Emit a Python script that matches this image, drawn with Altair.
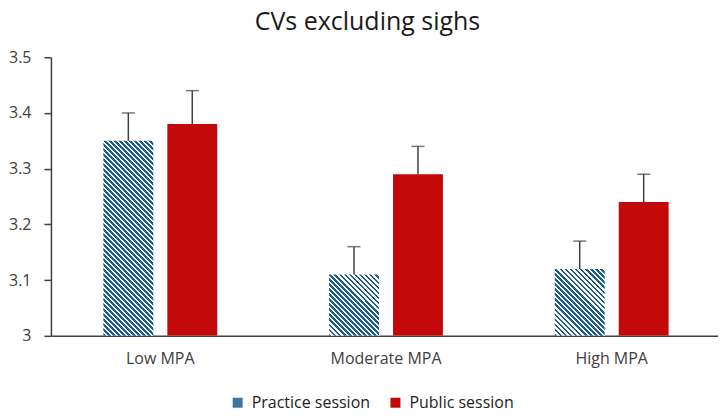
import altair as alt
import pandas as pd

# ---- data ----
groups = ["Low MPA", "Moderate MPA", "High MPA"]
sessions = ["Practice session", "Public session"]
practice_means = [3.35, 3.11, 3.12]
public_means = [3.38, 3.29, 3.24]
practice_err = [0.05, 0.05, 0.05]
public_err = [0.06, 0.05, 0.05]
y_ticks = [3.0, 3.1, 3.2, 3.3, 3.4, 3.5]

rows = []
for g, pm, pe, qm, qe in zip(groups, practice_means, practice_err, public_means, public_err):
    rows.append({"group": g, "session": sessions[0], "mean": pm, "upper": pm + pe})
    rows.append({"group": g, "session": sessions[1], "mean": qm, "upper": qm + qe})
df = pd.DataFrame(rows)

# ---- styling ----
FONT = "Open Sans"
PLOT_W = 668
PLOT_H = 279
Y0, Y1 = 3.0, 3.5
BAR_W = 50.0
STRIPE_P = 5.0
DARK_BLUE = "#1b5c8e"
RED = "#c20808"
LEGEND_BLUE = "#3d76a3"


def stripe_gradient(value):
    """Diagonal (\\) stripes for one bar, expressed as a linear gradient
    in object-bounding-box units."""
    h = (value - Y0) / (Y1 - Y0) * PLOT_H
    w = BAR_W
    k = (w + h) / (w * w + h * h)
    a, b = k * w, k * h
    n = max(1, round((w + h) / STRIPE_P))
    f = 0.52
    stops = []
    for i in range(n):
        stops += [
            {"offset": i / n, "color": DARK_BLUE},
            {"offset": (i + f) / n, "color": DARK_BLUE},
            {"offset": (i + f) / n, "color": "#ffffff"},
            {"offset": (i + 1) / n, "color": "#ffffff"},
        ]
    return {"gradient": "linear", "x1": 0, "y1": 1, "x2": a, "y2": 1 - b, "stops": stops}


conditions = [
    {
        "test": f"datum.group === '{g}' && datum.session === '{sessions[0]}'",
        "value": stripe_gradient(v),
    }
    for g, v in zip(groups, practice_means)
]

x_enc = alt.X(
    "group:N",
    sort=groups,
    scale=alt.Scale(paddingInner=0.4956, paddingOuter=0.2256, align=0.515),
    axis=alt.Axis(
        title=None,
        labelAngle=0,
        ticks=False,
        tickSize=0,
        labelPadding=15,
        labelFont=FONT,
        labelFontSize=16,
        labelColor="#404040",
        domainColor="#404040",
        domainWidth=1.5,
        grid=False,
    ),
)
x_off = alt.XOffset("session:N", sort=sessions, scale=alt.Scale(paddingInner=0.22, paddingOuter=0))
y_scale = alt.Scale(domain=[Y0, Y1], nice=False, zero=False)

bars = alt.Chart(df).mark_bar(clip=True).encode(
    x=x_enc,
    xOffset=x_off,
    y=alt.Y(
        "mean:Q",
        scale=y_scale,
        axis=alt.Axis(
            title=None,
            values=y_ticks,
            labelExpr="datum.value == 3 ? '3' : format(datum.value, '.1f')",
            grid=False,
            tickSize=7,
            tickColor="#404040",
            tickWidth=1.5,
            labelPadding=13,
            labelFont=FONT,
            labelFontSize=16,
            labelColor="#404040",
            domainColor="#404040",
            domainWidth=1.5,
        ),
    ),
    y2=alt.datum(Y0),
    fill=alt.Fill(
        "session:N",
        sort=sessions,
        scale=alt.Scale(domain=sessions, range=[LEGEND_BLUE, RED]),
        legend=alt.Legend(
            title=None,
            orient="none",
            direction="horizontal",
            legendX=179,
            legendY=338,
            symbolType="square",
            symbolSize=100,
            symbolStrokeWidth=0,
            labelFont=FONT,
            labelFontSize=16,
            labelColor="#222222",
            columnPadding=17,
            labelOffset=6,
        ),
        condition=conditions,
    ),
)

err_rule = alt.Chart(df).mark_rule(color="#404040", strokeWidth=1.5).encode(
    x=alt.X("group:N", sort=groups),
    xOffset=alt.XOffset("session:N", sort=sessions),
    y=alt.Y("mean:Q"),
    y2="upper:Q",
)

err_cap = alt.Chart(df).mark_tick(color="#404040", thickness=1.5, size=13).encode(
    x=alt.X("group:N", sort=groups),
    xOffset=alt.XOffset("session:N", sort=sessions),
    y=alt.Y("upper:Q"),
)

chart = (
    alt.layer(bars, err_rule, err_cap)
    .properties(
        width=PLOT_W,
        height=PLOT_H,
        padding={"left": 0, "right": 0, "top": 2, "bottom": 2},
        title=alt.TitleParams(
            "CVs excluding sighs",
            font=FONT,
            fontSize=25,
            fontWeight="normal",
            color="#1a1a1a",
            anchor="middle",
            dx=-17,
            offset=14,
        ),
    )
    .configure_view(stroke=None)
)

chart.save("out.html", embed_options={"renderer": "svg", "actions": False})
